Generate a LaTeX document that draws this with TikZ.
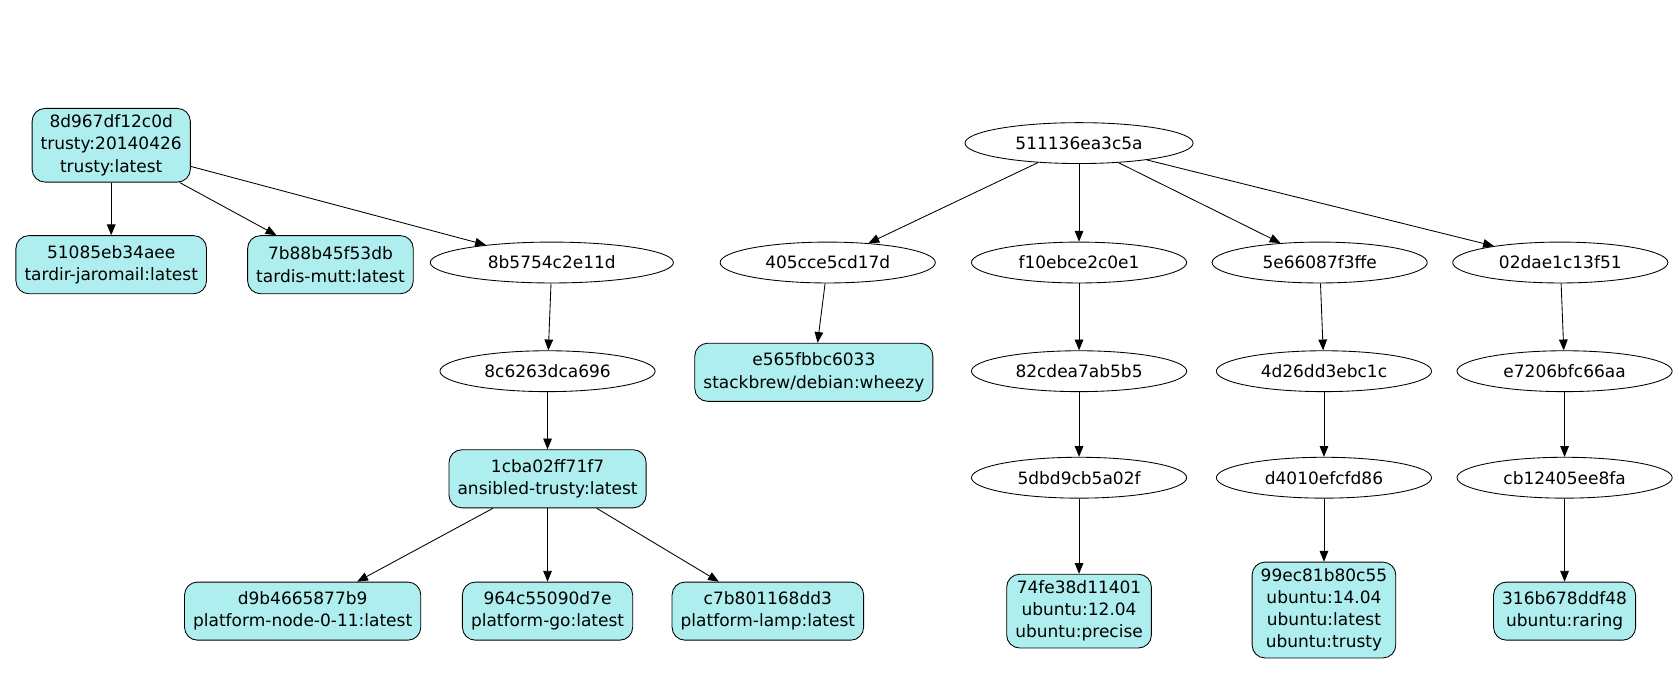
\documentclass[tikz,border=0pt]{standalone}
\usepackage{fontspec}
\setmainfont{DejaVu Sans}
\usetikzlibrary{shapes,arrows.meta,positioning}
\definecolor{imgfill}{HTML}{AFEEEE}
\tikzset{
  layer/.style={draw, ellipse, minimum width=100pt, minimum height=19pt, inner sep=1pt},
  image/.style={draw, rectangle, rounded corners=6pt, fill=imgfill, align=center, inner xsep=4pt, inner ysep=3pt, minimum height=27pt},
  link/.style={-{Triangle[length=5pt,width=4pt]}}
}
\begin{document}
\begin{tikzpicture}[x=0.497pt, y=-0.5pt, font=\fontsize{7.9}{10.3}\selectfont]
    \useasboundingbox (0,0) rectangle (1570,650);

    \node[image] (trusty) at (104,135) {8d967df12c0d\\trusty:20140426\\trusty:latest};
    \node[image] (jaromail) at (104,246) {51085eb34aee\\tardir-jaromail:latest};
    \node[image] (mutt) at (309,246) {7b88b45f53db\\tardis-mutt:latest};
    \node[layer, minimum width=113pt] (l8b57) at (516,244) {8b5754c2e11d};
    \node[layer] (l8c62) at (512,345) {8c6263dca696};
    \node[image] (ansibled) at (512,445) {1cba02ff71f7\\ansibled-trusty:latest};
    \node[image] (node011) at (283,568) {d9b4665877b9\\platform-node-0-11:latest};
    \node[image] (go) at (512,568) {964c55090d7e\\platform-go:latest};
    \node[image] (lamp) at (718,568) {c7b801168dd3\\platform-lamp:latest};

    \node[layer, minimum width=106pt] (root) at (1009,133) {511136ea3c5a};
    \node[layer] (l405c) at (774,244) {405cce5cd17d};
    \node[image] (wheezy) at (761,346) {e565fbbc6033\\stackbrew/debian:wheezy};
    \node[layer] (lf10e) at (1009,244) {f10ebce2c0e1};
    \node[layer] (l82cd) at (1009,345) {82cdea7ab5b5};
    \node[layer] (l5dbd) at (1009,444) {5dbd9cb5a02f};
    \node[image] (precise) at (1009,568) {74fe38d11401\\ubuntu:12.04\\ubuntu:precise};
    \node[layer] (l5e66) at (1234,244) {5e66087f3ffe};
    \node[layer] (l4d26) at (1238,345) {4d26dd3ebc1c};
    \node[layer] (ld401) at (1238,444) {d4010efcfd86};
    \node[image] (trustyu) at (1238,567) {99ec81b80c55\\ubuntu:14.04\\ubuntu:latest\\ubuntu:trusty};
    \node[layer] (l02da) at (1459,244) {02dae1c13f51};
    \node[layer] (le720) at (1463,345) {e7206bfc66aa};
    \node[layer] (lcb12) at (1463,444) {cb12405ee8fa};
    \node[image] (raring) at (1463,568) {316b678ddf48\\ubuntu:raring};

    \draw[link] (trusty) -- (jaromail);
    \draw[link] (trusty) -- (mutt);
    \draw[link] (trusty) -- (l8b57);
    \draw[link] (l8b57) -- (l8c62);
    \draw[link] (l8c62) -- (ansibled);
    \draw[link] (ansibled) -- (node011);
    \draw[link] (ansibled) -- (go);
    \draw[link] (ansibled) -- (lamp);

    \draw[link] (root) -- (l405c);
    \draw[link] (root) -- (lf10e);
    \draw[link] (root) -- (l5e66);
    \draw[link] (root) -- (l02da);
    \draw[link] (l405c) -- (wheezy);
    \draw[link] (lf10e) -- (l82cd);
    \draw[link] (l82cd) -- (l5dbd);
    \draw[link] (l5dbd) -- (precise);
    \draw[link] (l5e66) -- (l4d26);
    \draw[link] (l4d26) -- (ld401);
    \draw[link] (ld401) -- (trustyu);
    \draw[link] (l02da) -- (le720);
    \draw[link] (le720) -- (lcb12);
    \draw[link] (lcb12) -- (raring);
\end{tikzpicture}
\end{document}
